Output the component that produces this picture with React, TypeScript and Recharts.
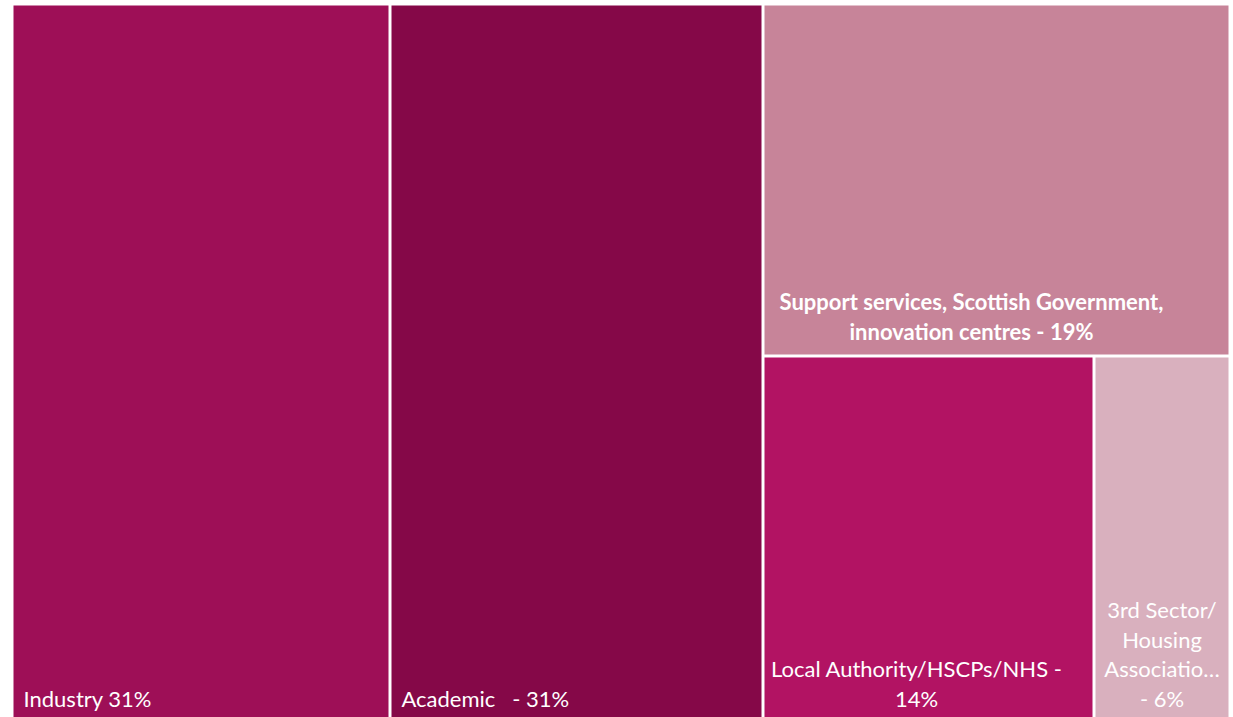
import React from 'react';
import { Treemap } from 'recharts';

const categories = [
  'Industry',
  'Academic',
  'Support services, Scottish Government, innovation centres',
  'Local Authority/HSCPs/NHS',
  '3rd Sector/ Housing Association',
];
// shares read from the tile areas (labels show rounded percentages)
const shares = [31.0, 30.6, 18.9, 13.8, 5.7];
const labelLines = [
  ['Industry 31%'],
  ['Academic   - 31%'],
  ['Support services, Scottish Government,', 'innovation centres - 19%'],
  ['Local Authority/HSCPs/NHS -', '14%'],
  ['3rd Sector/', 'Housing', 'Associatio\u2026', '- 6%'],
];
const colors = ['#9E0F57', '#850848', '#C78499', '#B21363', '#D9B0BE'];

// label placement (styles kept apart from data)
const labelStyle = [
  { anchor: 'start', dx: 10, bold: false, bottom: 11 },
  { anchor: 'start', dx: 10, bold: false, bottom: 11 },
  { anchor: 'middle', dx: -25, bold: true, bottom: 15 },
  { anchor: 'middle', dx: -12, bold: false, bottom: 11 },
  { anchor: 'middle', dx: 0, bold: false, bottom: 11 },
];

const data = categories.map((name, i) => ({
  name,
  size: shares[i],
  idx: i,
}));

const GAP = 3;
const LINE_H = 29.5;

const Cell = (props: any) => {
  const { x, y, width, height, depth, idx } = props;
  if (depth === 0 || idx === undefined) return <g />;
  const rx = x + GAP / 2;
  const ry = y + GAP / 2;
  const rw = width - GAP;
  const rh = height - GAP;
  const st = labelStyle[idx];
  const lines = labelLines[idx];
  const tx = st.anchor === 'start' ? rx + st.dx : rx + rw / 2 + st.dx;
  const lastBase = ry + rh - st.bottom;
  return (
    <g>
      <rect x={rx} y={ry} width={rw} height={rh} fill={colors[idx]} stroke="none" />
      <text
        fill="#ffffff"
        stroke="none"
        textAnchor={st.anchor}
        style={{
          whiteSpace: 'pre',
          fontFamily: "Lato, 'Open Sans', sans-serif",
          fontSize: 22,
          fontWeight: st.bold ? 700 : 400,
        }}
      >
        {lines.map((l, k) => (
          <tspan key={k} x={tx} y={lastBase - (lines.length - 1 - k) * LINE_H}>
            {l}
          </tspan>
        ))}
      </text>
    </g>
  );
};

export default function App() {
  return (
    <div style={{ position: 'absolute', left: 11.5, top: 3.5, width: 1218, height: 715, background: '#fff' }}>
      <Treemap
        width={1218}
        height={715}
        data={data}
        dataKey="size"
        nameKey="name"
        aspectRatio={1}
        isAnimationActive={false}
        stroke="#fff"
        content={<Cell />}
      />
    </div>
  );
}
